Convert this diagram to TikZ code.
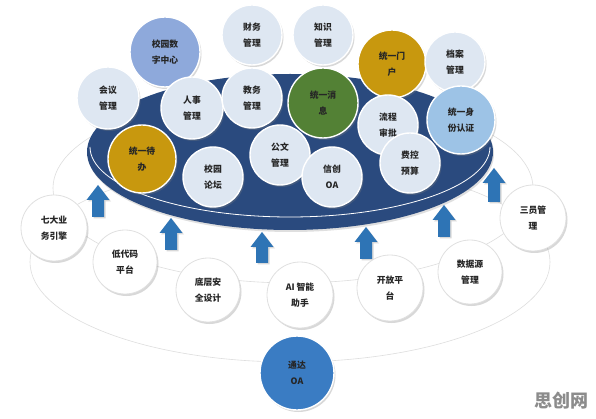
\documentclass[tikz,border=0pt]{standalone}
\usepackage{fontspec}
\newfontfamily\cjk{Noto Sans CJK SC}
\usetikzlibrary{shadows}
\definecolor{navy}{HTML}{2A4A7E}
\definecolor{pale}{HTML}{DEE7F2}
\definecolor{gold}{HTML}{C8980E}
\definecolor{leaf}{HTML}{538135}
\definecolor{midblue}{HTML}{8EA9DB}
\definecolor{skyblue}{HTML}{9DC3E6}
\definecolor{oablue}{HTML}{3A7CC3}
\definecolor{arrowc}{HTML}{2E74B5}
\newcommand\barrow[4]{% name, x, ytop, ybot
  \fill[arrowc, drop shadow={shadow xshift=1.5pt, shadow yshift=-1.5pt, opacity=0.3}]
    (#2-6,#4) -- (#2-6,#3+15) -- (#2-11.5,#3+15) -- (#2,#3) -- (#2+11.5,#3+15)
    -- (#2+6,#3+15) -- (#2+6,#4) -- cycle;
  \coordinate (#1) at (#2,#3);}
\begin{document}
\begin{tikzpicture}[x=1pt,y=-1pt,
  bub/.style={circle, minimum size=#1, inner sep=0pt, align=center,
    font=\cjk\bfseries\fontsize{8.8}{16}\selectfont, text=black!85,
    draw=white, line width=1.4pt,
    drop shadow={shadow xshift=1.5pt, shadow yshift=-2pt, opacity=0.3}},
  bub/.default=60pt,
  lt/.style={bub=#1, fill=pale},
  lt/.default=60pt,
  wt/.style={bub=#1, fill=white, draw=black!12, line width=0.8pt},
  wt/.default=65pt,
  faint/.style={draw=black!13, line width=0.6pt}]
\useasboundingbox[fill=white] (0,0) rectangle (596,419);

% faint guide ellipses
\draw[faint] (293,188) ellipse[x radius=240, y radius=95];
\draw[faint] (290,262) ellipse[x radius=260, y radius=100];

% the disk
\fill[navy, drop shadow={shadow xshift=1pt, shadow yshift=-2pt, opacity=0.25}]
  (290,152) ellipse[x radius=203, y radius=78];
\draw[white, line width=0.8pt] (90,147) arc[start angle=180, end angle=0, x radius=200, y radius=70];

% arrows
\barrow{a1}{98}{185}{217}
\barrow{a2}{171}{218}{250}
\barrow{a3}{262}{232}{263}
\barrow{a4}{366}{227}{259}
\barrow{a5}{444}{205}{237}
\barrow{a6}{494}{168}{202}

% bottom ring of circles
\node[wt=66pt] (qd) at (54,228) {七大业\\务引擎};
\node[wt=64pt] (ddm) at (125,262) {低代码\\平台};
\node[wt=64pt] (dc) at (208,290) {底层安\\全设计};
\node[wt=66pt] (ai) at (300,295) {AI 智能\\助手};
\node[wt=66pt] (kf) at (390,288) {开放平\\台};
\node[wt=64pt] (sjy) at (470,272) {数据源\\管理};
\node[wt=66pt] (sy) at (533,218) {三员管\\理};
\node[bub=74pt, fill=oablue, draw=white] (td) at (297,373) {通达\\OA};

% circles on the disk: back row
\node[bub=70pt, fill=midblue] (xysz) at (165,52) {校园数\\字中心};
\node[lt] (cw) at (252,35) {财务\\管理};
\node[lt] (zs) at (323,35) {知识\\管理};
\node[bub=68pt, fill=gold] (mh) at (392,64) {统一门\\户};
\node[lt] (da) at (455,62) {档案\\管理};
% middle row
\node[lt=62pt] (hy) at (108,98) {会议\\管理};
\node[lt=62pt] (rs) at (192,108) {人事\\管理};
\node[lt] (jw) at (252,98) {教务\\管理};
\node[bub=70pt, fill=leaf] (xx) at (323,103) {统一消\\息};
\node[lt] (lc) at (388,125) {流程\\审批};
\node[bub=68pt, fill=skyblue] (sf) at (461,120) {统一身\\份认证};
% front row
\node[bub=68pt, fill=gold] (db) at (142,159) {统一待\\办};
\node[lt] (lt1) at (213,177) {校园\\论坛};
\node[lt] (gw) at (280,155) {公文\\管理};
\node[lt] (xc) at (332,177) {信创\\OA};
\node[lt] (fk) at (410,163) {费控\\预算};

% watermark
\node[text=black!45, font=\cjk\bfseries\fontsize{18}{18}\selectfont] (wm) at (561,401) {思创网};
\end{tikzpicture}
\end{document}
